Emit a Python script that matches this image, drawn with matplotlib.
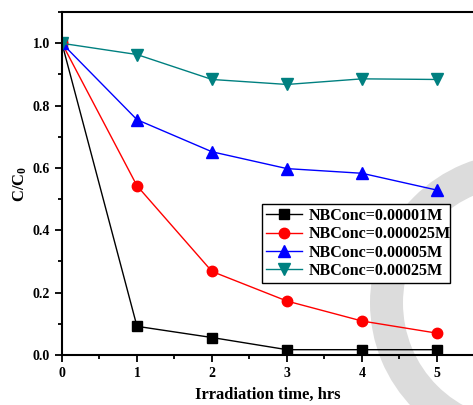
import matplotlib
matplotlib.use("Agg")
import matplotlib.pyplot as plt
from matplotlib.patches import Wedge
from matplotlib.ticker import MultipleLocator

time_hrs = [0, 1, 2, 3, 4, 5]
conc_00001 = [1.0, 0.092, 0.056, 0.017, 0.017, 0.017]
conc_000025 = [1.0, 0.543, 0.268, 0.173, 0.109, 0.070]
conc_00005 = [1.0, 0.755, 0.652, 0.598, 0.583, 0.529]
conc_00025 = [1.0, 0.964, 0.884, 0.868, 0.886, 0.884]
labels = ["NBConc=0.00001M", "NBConc=0.000025M", "NBConc=0.00005M", "NBConc=0.00025M"]

plt.rcParams['font.family'] = ['Liberation Serif', 'DejaVu Serif']
plt.rcParams['font.weight'] = 'bold'
plt.rcParams['mathtext.fontset'] = 'custom'
plt.rcParams['mathtext.rm'] = 'Liberation Serif:bold'
plt.rcParams['mathtext.it'] = 'Liberation Serif:bold'
plt.rcParams['mathtext.bf'] = 'Liberation Serif:bold'

fig = plt.figure(figsize=(4.73, 4.05), dpi=100)
# background grey ring watermark
ring = Wedge((5.2, 1.02), 1.50, 0, 360, width=0.33, facecolor='#dcdcdc',
             edgecolor='none', transform=fig.dpi_scale_trans, zorder=-5)
fig.add_artist(ring)

ax = fig.add_axes([0.131, 0.1235, 0.869, 0.8465])
ax.set_facecolor('none')

ax.plot(time_hrs, conc_00001, color='black', marker='s', ms=6.5, lw=1, label=labels[0])
ax.plot(time_hrs, conc_000025, color='red', marker='o', ms=7.5, lw=1, label=labels[1])
ax.plot(time_hrs, conc_00005, color='blue', marker='^', ms=8, lw=1, label=labels[2])
ax.plot(time_hrs, conc_00025, color='#008080', marker='v', ms=8, lw=1, label=labels[3])

ax.set_xlim(0, 5.48)
ax.set_ylim(0, 1.1)
ax.xaxis.set_major_locator(MultipleLocator(1))
ax.xaxis.set_minor_locator(MultipleLocator(0.5))
ax.yaxis.set_major_locator(MultipleLocator(0.2))
ax.yaxis.set_minor_locator(MultipleLocator(0.1))
ax.yaxis.set_major_formatter(matplotlib.ticker.FormatStrFormatter('%.1f'))
ax.spines['right'].set_visible(False)
for s in ['left', 'bottom', 'top']:
    ax.spines[s].set_linewidth(1.5)
ax.tick_params(which='both', direction='out', top=False, right=False, width=1.3)
ax.tick_params(which='major', length=5, labelsize=10)
ax.tick_params(which='minor', length=3)
for lab in ax.get_xticklabels() + ax.get_yticklabels():
    lab.set_fontweight('bold')

ax.set_xlabel('Irradiation time, hrs', fontsize=12, fontweight='bold', labelpad=5)
ax.set_ylabel(r'C/C$_0$', fontsize=12, fontweight='bold', labelpad=3)

leg = ax.legend(loc='lower left', bbox_to_anchor=(0.486, 0.21, 0.4575, 0.24), mode='expand',
                fontsize=11.5, frameon=True, fancybox=False, edgecolor='black',
                borderpad=0.25, labelspacing=0.15, handlelength=2.3, handletextpad=0.4,
                borderaxespad=0)
leg.get_frame().set_linewidth(1.0)
leg.get_frame().set_alpha(1)
for t in leg.get_texts():
    t.set_fontweight('bold')

fig.savefig('out.png', dpi=100)
